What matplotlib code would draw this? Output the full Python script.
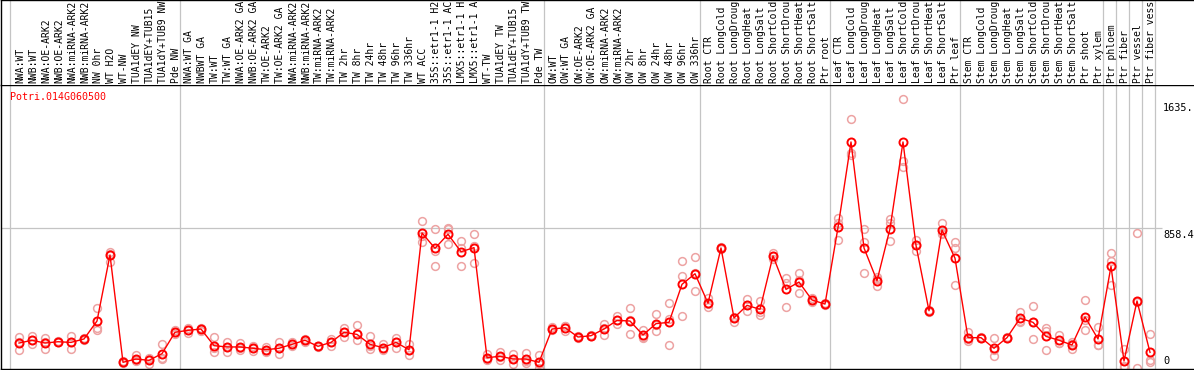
import matplotlib
matplotlib.use("Agg")
import matplotlib.pyplot as plt
import numpy as np

gene = "Potri.014G060500"

samples = [
    "NWA:WT", "NWB:WT", "NWA:OE-ARK2", "NWB:OE-ARK2", "NWA:miRNA-ARK2",
    "NWB:miRNA-ARK2", "NW 0hr", "WT H2O", "WT-NW", "TUA1dEY NW",
    "TUA1dEY+TUB15 NW", "TUA1dY+TUB9 NW", "Pde NW",
    "NWA:WT GA", "NWBWT GA", "TW:WT", "TW:WT GA", "NWA:OE-ARK2 GA",
    "NWB:OE-ARK2 GA", "TW:OE-ARK2", "TW:OE-ARK2 GA", "NWA:miRNA-ARK2 GA",
    "NWB:miRNA-ARK2 GA", "TW:miRNA-ARK2", "TW:miRNA-ARK2 GA", "TW 2hr",
    "TW 8hr", "TW 24hr", "TW 48hr", "TW 96hr", "TW 336hr", "WT ACC",
    "35S::etr1-1 H2O", "35S::etr1-1 ACC", "LMX5::etr1-1 H2O",
    "LMX5::etr1-1 ACC", "WT-TW", "TUA1dEY TW", "TUA1dEY+TUB15 TW",
    "TUA1dY+TUB9 TW", "Pde TW",
    "OW:WT", "OW:WT GA", "OW:OE-ARK2", "OW:OE-ARK2 GA", "OW:miRNA-ARK2",
    "OW:miRNA-ARK2 GA", "OW 2hr", "OW 8hr", "OW 24hr", "OW 48hr", "OW 96hr",
    "OW 336hr",
    "Root CTR", "Root LongCold", "Root LongDrought", "Root LongHeat",
    "Root LongSalt", "Root ShortCold", "Root ShortDrought", "Root ShortHeat",
    "Root ShortSalt", "Ptr root",
    "Leaf CTR", "Leaf LongCold", "Leaf LongDrought", "Leaf LongHeat",
    "Leaf LongSalt", "Leaf ShortCold", "Leaf ShortDrought", "Leaf ShortHeat",
    "Leaf ShortSalt", "Ptr leaf",
    "Stem CTR", "Stem LongCold", "Stem LongDrought", "Stem LongHeat",
    "Stem LongSalt", "Stem ShortCold", "Stem ShortDrought", "Stem ShortHeat",
    "Stem ShortSalt", "Ptr shoot", "Ptr xylem",
    "Ptr phloem", "Ptr fiber", "Ptr vessel", "Ptr fiber vessel",
]

group_sizes = [13, 28, 12, 10, 10, 11, 1, 1, 1, 1]

means = [
    153, 170, 153, 161, 157, 178, 288, 693, 35, 55, 47, 88, 219,
    231, 239, 137, 129, 129, 121, 112, 121, 145, 170, 133, 157, 219, 206,
    145, 125, 157, 112, 828, 734, 820, 713, 738, 63, 72, 55, 55, 35,
    239, 247, 190, 198, 239, 292, 288, 202, 272, 280, 513, 578,
    397, 736, 307, 384, 360, 687, 482, 527, 417, 392,
    862, 1386, 736, 535, 854, 1386, 752, 351, 846, 673,
    186, 186, 121, 186, 305, 280, 194, 170, 141, 313, 178,
    623, 43, 411, 96,
]

replicates = [
    (190, 160, 108), (194, 170, 145), (182, 160, 116), (165, 161, 157),
    (198, 157, 116), (186, 178, 170), (366, 243, 231), (709, 700, 652),
    (40, 35, 30), (80, 47, 40), (63, 55, 22), (149, 60, 55),
    (231, 219, 206), (247, 231, 214), (247, 239, 227), (190, 125, 96),
    (161, 129, 96), (153, 125, 112), (133, 125, 104), (129, 112, 100),
    (157, 121, 84), (157, 145, 133), (180, 170, 160), (137, 133, 129),
    (178, 157, 137), (247, 219, 190), (264, 206, 174), (194, 133, 114),
    (145, 125, 108), (186, 161, 121), (149, 108, 80), (901, 810, 774),
    (852, 717, 623), (860, 852, 762), (779, 733, 627), (820, 750, 644),
    (84, 55, 50), (96, 70, 51), (84, 55, 26), (90, 45, 30),
    (80, 25, 0), (251, 239, 231), (259, 255, 227), (195, 190, 185),
    (200, 198, 196), (272, 243, 202), (317, 292, 268), (366, 292, 206),
    (231, 190, 186), (329, 261, 227), (398, 300, 141), (656, 562, 317),
    (680, 580, 472), (431, 390, 376), (740, 736, 732), (315, 307, 282),
    (421, 384, 351), (409, 345, 327), (707, 687, 666), (552, 523, 372),
    (580, 540, 462), (430, 417, 405), (400, 392, 384), (920, 891, 785),
    (1525, 1320, 1308), (854, 772, 580), (556, 545, 503), (915, 887, 780),
    (1651, 1271, 1234), (785, 755, 715), (356, 351, 346), (891, 830, 820),
    (771, 738, 509), (219, 180, 165), (190, 186, 182), (182, 108, 75),
    (190, 186, 182), (341, 290, 284), (378, 284, 178), (247, 227, 108),
    (202, 155, 153), (160, 149, 116), (415, 294, 231), (251, 141, 141),
    (705, 655, 509), (116, 10, 6), (828, 405, 0), (206, 47, 39),
]

tick_values = [1635.0, 858.4, 0]
tick_labels = ["1635.", "858.4", "0"]

# the header only has room for this many characters per sample name
label_chars = 14


def main():
    W, H = 1194, 370
    fig = plt.figure(figsize=(W / 100, H / 100), dpi=100)
    mono = "DejaVu Sans Mono"
    grey = "#c4c4c4"
    pink = "#eda3a3"

    # layout in pixels: header 0..85, plot 85..369
    head_px, bottom_px = 85, 369
    ax = fig.add_axes([1 / W, (H - bottom_px) / H, (W - 1) / W,
                       (bottom_px - head_px) / H])
    hax = fig.add_axes([1 / W, (H - head_px) / H, (W - 1) / W, head_px / H],
                       sharex=ax)

    x = np.arange(len(samples))
    ax.set_xlim(-18 / 13, (W - 19) / 13)
    px_per_unit = 140 / 858.4
    ax.set_ylim(-1 / px_per_unit, (368 - head_px) / px_per_unit)
    hax.set_ylim(0, 1)

    # separators between groups
    bounds = [-0.69] + [b - 1 + 0.38 for b in np.cumsum(group_sizes)]
    for b in bounds:
        ax.axvline(b, color=grey, lw=0.9, zorder=0)
        hax.axvline(b, color=grey, lw=0.9, zorder=0)

    ax.hlines(858.4, ax.get_xlim()[0], 87.95, color=grey, lw=0.9, zorder=0)

    reps = np.array(replicates, dtype=float)
    for k in range(reps.shape[1]):
        ax.plot(x, reps[:, k], ls="none", marker="o", ms=5.6, mfc="none",
                mec=pink, mew=1.1, zorder=2)
    ax.plot(x, means, color="red", lw=1.0, marker="o", ms=5.8, mfc="none",
            mec="red", mew=1.4, zorder=3)

    for v, lab in zip(tick_values, tick_labels):
        va = "bottom" if v == 0 else "top"
        dy = 2 if v == 0 else -1.5
        ax.annotate(lab, xy=(len(samples), v), xytext=(0, dy),
                    textcoords="offset pixels", ha="left", va=va,
                    fontsize=7.4, family=mono, color="black",
                    annotation_clip=False)

    ax.text(-9 / 13, 1 - 12 / (bottom_px - head_px), gene,
            transform=ax.get_xaxis_transform(), ha="left", va="center",
            fontsize=7.2, family=mono, color="red")

    for i, s in enumerate(samples):
        hax.text(i + 0.08, 2 / head_px, s[:label_chars].rstrip(), rotation=90,
                 ha="center", va="bottom", fontsize=7.0, family=mono,
                 color="black")

    for a in (ax, hax):
        a.set_xticks([])
        a.set_yticks([])
        a.spines["right"].set_visible(False)
        for side in ("left", "top", "bottom"):
            a.spines[side].set_linewidth(1.0)
            a.spines[side].set_color("black")
    hax.spines["bottom"].set_visible(False)

    fig.savefig("out.png", dpi=100)
    plt.close(fig)


if __name__ == "__main__":
    main()
